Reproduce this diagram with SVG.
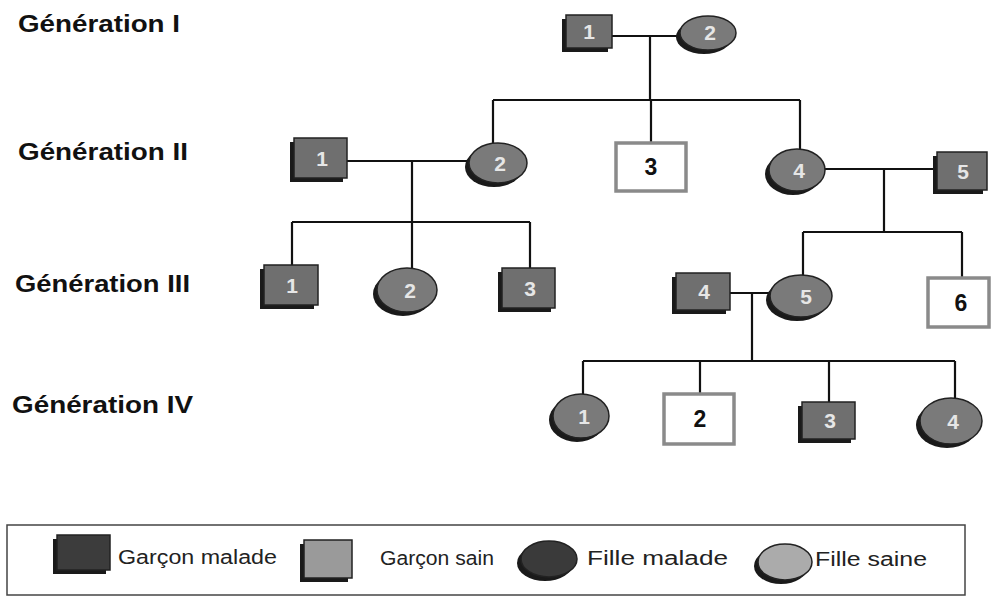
<svg xmlns="http://www.w3.org/2000/svg" width="993" height="612" viewBox="0 0 993 612">
<style>
.gen{font-family:"Liberation Sans",Arial,sans-serif;font-weight:bold;font-size:24px;fill:#111}
.lg{font-family:"Liberation Sans",Arial,sans-serif;font-size:20px;fill:#222}
.sh{fill:#1a1a1a}
.sq{fill:#6f6f6f;stroke:#222;stroke-width:1.5}
.ci{fill:#7a7a7a;stroke:#222;stroke-width:1.5}
.wsq{fill:#fff;stroke:#8a8a8a;stroke-width:3.5}
.num{font-family:"Liberation Sans",Arial,sans-serif;font-weight:bold;font-size:21px;fill:#e6e6e6;text-anchor:middle}
.wnum{font-family:"Liberation Sans",Arial,sans-serif;font-weight:bold;font-size:23px;fill:#111;text-anchor:middle}
.ln{stroke:#111;stroke-width:2.2;fill:none}
</style>
<rect width="993" height="612" fill="#fff"/>

<g id="labels">
<text class="gen" x="18" y="32" textLength="162" lengthAdjust="spacingAndGlyphs">Génération I</text>
<text class="gen" x="18" y="160" textLength="170" lengthAdjust="spacingAndGlyphs">Génération II</text>
<text class="gen" x="15" y="292" textLength="175" lengthAdjust="spacingAndGlyphs">Génération III</text>
<text class="gen" x="12" y="413" textLength="181" lengthAdjust="spacingAndGlyphs">Génération IV</text>
</g>

<g id="connectors">
<path class="ln" d="M612 36 H680 M650 36 V100 M493 100 H800 M493 100 V143 M651 100 V142 M800 100 V149"/>
<path class="ln" d="M347 161 H469 M412 161 V222 M292 222 H530 M292 222 V265 M412 222 V268 M530 222 V268"/>
<path class="ln" d="M825 169 H933 M884 169 V232 M803 232 H962 M803 232 V275 M962 232 V277"/>
<path class="ln" d="M730 293 H770 M752 293 V362 M583 361 H955 M583 361 V394 M700 361 V393 M829 361 V402 M955 361 V398"/>
</g>

<g id="I-1"><rect class="sh" x="562" y="19" width="46" height="33"/><rect class="sq" x="566" y="15" width="46" height="33"/><text class="num" x="589" y="39">1</text></g>
<g id="I-2"><ellipse class="sh" cx="704" cy="37" rx="28" ry="17"/><ellipse class="ci" cx="708" cy="33" rx="28" ry="17"/><text class="num" x="710" y="40">2</text></g>

<g id="II-1"><rect class="sh" x="290" y="142" width="53" height="40"/><rect class="sq" x="294" y="138" width="53" height="40"/><text class="num" x="322" y="166">1</text></g>
<g id="II-2"><ellipse class="sh" cx="494" cy="167" rx="29" ry="20"/><ellipse class="ci" cx="498" cy="163" rx="29" ry="20"/><text class="num" x="500" y="171">2</text></g>
<g id="II-3"><rect class="wsq" x="616" y="143" width="70" height="48"/><text class="wnum" x="651" y="175">3</text></g>
<g id="II-4"><ellipse class="sh" cx="793" cy="174" rx="28" ry="21"/><ellipse class="ci" cx="797" cy="170" rx="28" ry="21"/><text class="num" x="799" y="178">4</text></g>
<g id="II-5"><rect class="sh" x="933" y="156" width="50" height="38"/><rect class="sq" x="937" y="152" width="50" height="38"/><text class="num" x="963" y="179">5</text></g>

<g id="III-1"><rect class="sh" x="260" y="269" width="54" height="40"/><rect class="sq" x="264" y="265" width="54" height="40"/><text class="num" x="292" y="293">1</text></g>
<g id="III-2"><ellipse class="sh" cx="403" cy="294" rx="30" ry="22"/><ellipse class="ci" cx="407" cy="290" rx="30" ry="22"/><text class="num" x="410" y="298">2</text></g>
<g id="III-3"><rect class="sh" x="498" y="272" width="53" height="40"/><rect class="sq" x="502" y="268" width="53" height="40"/><text class="num" x="530" y="296">3</text></g>
<g id="III-4"><rect class="sh" x="672" y="277" width="54" height="37"/><rect class="sq" x="676" y="273" width="54" height="37"/><text class="num" x="704" y="299">4</text></g>
<g id="III-5"><ellipse class="sh" cx="797" cy="300" rx="31" ry="21"/><ellipse class="ci" cx="801" cy="296" rx="31" ry="21"/><text class="num" x="806" y="304">5</text></g>
<g id="III-6"><rect class="wsq" x="928" y="278" width="61" height="49"/><text class="wnum" x="961" y="311">6</text></g>

<g id="IV-1"><ellipse class="sh" cx="577" cy="420" rx="28" ry="22"/><ellipse class="ci" cx="581" cy="416" rx="28" ry="22"/><text class="num" x="584" y="424">1</text></g>
<g id="IV-2"><rect class="wsq" x="664" y="394" width="70" height="50"/><text class="wnum" x="700" y="427">2</text></g>
<g id="IV-3"><rect class="sh" x="798" y="406" width="53" height="37"/><rect class="sq" x="802" y="402" width="53" height="37"/><text class="num" x="830" y="428">3</text></g>
<g id="IV-4"><ellipse class="sh" cx="947" cy="425" rx="31" ry="23"/><ellipse class="ci" cx="951" cy="421" rx="31" ry="23"/><text class="num" x="953" y="429">4</text></g>

<g id="legend">
<rect x="7" y="525" width="958" height="70" fill="none" stroke="#444" stroke-width="1.5"/>
<rect class="sh" x="53" y="539" width="53" height="35"/><rect x="57" y="535" width="53" height="35" fill="#3c3c3c" stroke="#222" stroke-width="1.5"/>
<text class="lg" x="118" y="564" textLength="159" lengthAdjust="spacingAndGlyphs">Garçon malade</text>
<rect class="sh" x="300" y="544" width="48" height="38"/><rect x="304" y="540" width="48" height="38" fill="#9a9a9a" stroke="#222" stroke-width="1.5"/>
<text class="lg" x="380" y="565" textLength="114" lengthAdjust="spacingAndGlyphs">Garçon sain</text>
<ellipse class="sh" cx="545" cy="563" rx="28" ry="18"/><ellipse cx="549" cy="559" rx="28" ry="18" fill="#3a3a3a" stroke="#222" stroke-width="1.5"/>
<text class="lg" x="587" y="565" textLength="141" lengthAdjust="spacingAndGlyphs">Fille malade</text>
<ellipse class="sh" cx="781" cy="566" rx="27" ry="18"/><ellipse cx="785" cy="562" rx="27" ry="18" fill="#ababab" stroke="#222" stroke-width="1.5"/>
<text class="lg" x="815" y="566" textLength="112" lengthAdjust="spacingAndGlyphs">Fille saine</text>
</g>
</svg>
